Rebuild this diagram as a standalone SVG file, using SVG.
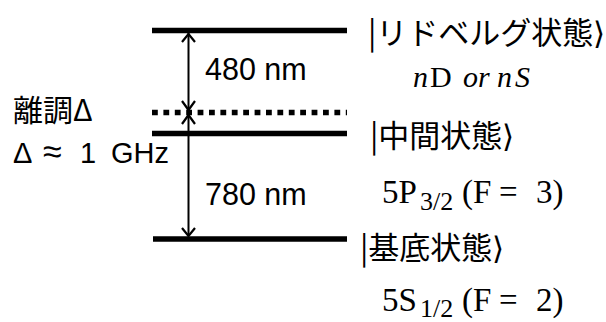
<svg xmlns="http://www.w3.org/2000/svg" width="606" height="322" viewBox="0 0 606 322">
<defs>
<style>
.lvl{stroke:#000;stroke-width:5.5;fill:none}
.dot{stroke:#000;stroke-width:5.5;stroke-dasharray:5.8 5.6;fill:none}
.arr{stroke:#000;stroke-width:2;fill:none}
.head{stroke:#000;stroke-width:2.2;fill:none}
.sans{font-family:"Liberation Sans","Noto Sans CJK JP",sans-serif;fill:#000}
.cjk{font-family:"Noto Sans CJK JP","Liberation Sans",sans-serif;fill:#000}
.math{font-family:"Liberation Serif","DejaVu Serif",serif;fill:#000}
</style>
</defs>
<rect width="606" height="322" fill="#fff"/>
<g id="levels">
<g id="rydberg-level"><line class="lvl" x1="152" y1="30.5" x2="347" y2="30.5"/></g>
<g id="detuned-level"><line class="dot" x1="152" y1="112.5" x2="347" y2="112.5"/></g>
<g id="intermediate-level"><line class="lvl" x1="152" y1="133.5" x2="347" y2="133.5"/></g>
<g id="ground-level"><line class="lvl" x1="153" y1="239" x2="347" y2="239"/></g>
</g>
<g id="connectors">
<line class="arr" x1="188.5" y1="33" x2="188.5" y2="236"/>
<polyline class="head" points="182,42 188.5,34 195,42"/>
<polyline class="head" points="182,101 188.5,110 195,101"/>
<polyline class="head" points="182,124 188.5,115 195,124"/>
<polyline class="head" points="182,228 188.5,236 195,228"/>
</g>
<g id="label-480"><text class="sans" x="205" y="80" font-size="30.5">480 nm</text></g>
<g id="label-780"><text class="sans" x="205" y="205" font-size="30.5">780 nm</text></g>
<g id="label-detuning">
<text class="cjk" x="13" y="121" font-size="30">離調Δ</text>
<text class="sans" y="163" font-size="29"><tspan x="13">Δ</tspan><tspan x="43" font-size="34">≈</tspan><tspan x="80">1</tspan><tspan x="111">GHz</tspan></text>
</g>
<g id="label-rydberg">
<text class="cjk" x="368" y="44" font-size="31">|リドベルグ状態⟩</text>
<text class="math" y="87" font-size="30"><tspan x="413" font-style="italic">n</tspan><tspan x="430">D</tspan><tspan x="463" font-style="italic">or</tspan><tspan x="497" font-style="italic">n</tspan><tspan x="515" font-style="italic">S</tspan></text>
</g>
<g id="label-intermediate">
<text class="cjk" x="370" y="147" font-size="31">|中間状態⟩</text>
<text class="math" y="203" font-size="33"><tspan x="382">5P</tspan><tspan x="420" y="210" font-size="26">3/2</tspan><tspan x="462" y="203">(F</tspan><tspan x="499">=</tspan><tspan x="536">3)</tspan></text>
</g>
<g id="label-ground">
<text class="cjk" x="360" y="259" font-size="31">|基底状態⟩</text>
<text class="math" y="311" font-size="33"><tspan x="382">5S</tspan><tspan x="420" y="317" font-size="26">1/2</tspan><tspan x="462" y="311">(F</tspan><tspan x="499">=</tspan><tspan x="536">2)</tspan></text>
</g>
</svg>
